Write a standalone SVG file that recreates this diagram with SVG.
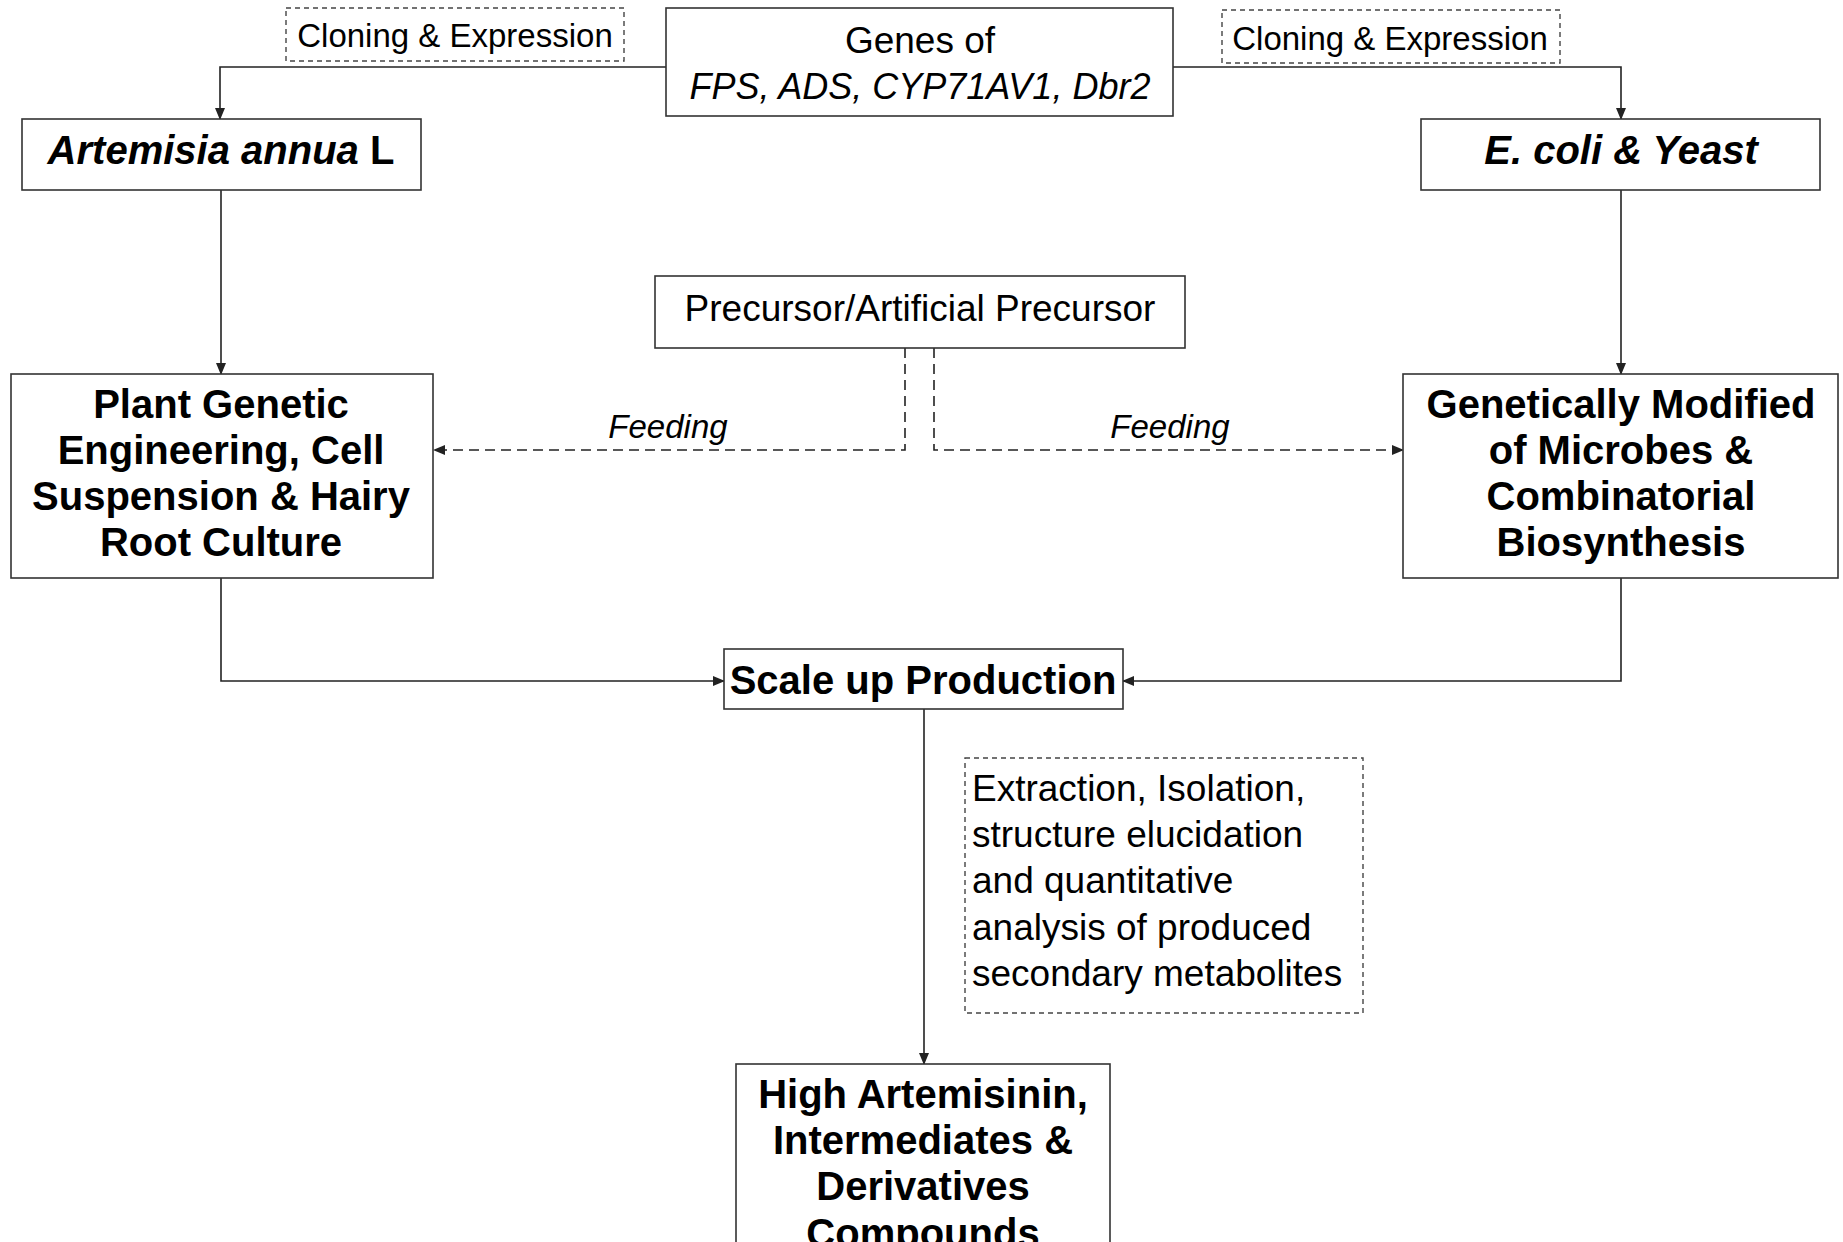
<svg xmlns="http://www.w3.org/2000/svg" width="1843" height="1242" viewBox="0 0 1843 1242">
<style>
.box{fill:#fff;stroke:#333;stroke-width:1.6}
.dbox{fill:#fff;stroke:#444;stroke-width:1.4;stroke-dasharray:5 4}
.ln{fill:none;stroke:#222;stroke-width:1.6}
.dln{fill:none;stroke:#222;stroke-width:1.6;stroke-dasharray:10 6}
text{font-family:"Liberation Sans",Arial,sans-serif;fill:#000}
.b{font-weight:bold;font-size:40px;text-anchor:middle}
.r{font-size:37px;text-anchor:middle}
.s{font-size:33px;text-anchor:middle}
.i{font-style:italic}
</style>
<defs>
<marker id="ah" markerWidth="12" markerHeight="10" refX="11" refY="5" orient="auto" markerUnits="userSpaceOnUse">
<path d="M0,0 L12,5 L0,10 Z" fill="#222"/>
</marker>
</defs>
<rect width="1843" height="1242" fill="#fff"/>
<g id="connectors">
<path class="ln" d="M666,67 H220 V119" marker-end="url(#ah)"/>
<path class="ln" d="M1173,67 H1621 V119" marker-end="url(#ah)"/>
<path class="ln" d="M221,190 V374" marker-end="url(#ah)"/>
<path class="ln" d="M1621,190 V374" marker-end="url(#ah)"/>
<path class="dln" d="M905,348 V450 H434" marker-end="url(#ah)"/>
<path class="dln" d="M934,348 V450 H1403" marker-end="url(#ah)"/>
<path class="ln" d="M221,578 V681 H724" marker-end="url(#ah)"/>
<path class="ln" d="M1621,578 V681 H1123" marker-end="url(#ah)"/>
<path class="ln" d="M924,709 V1064" marker-end="url(#ah)"/>
<text class="s i" x="668" y="438">Feeding</text>
<text class="s i" x="1170" y="438">Feeding</text>
</g>
<g id="genes">
<rect class="box" x="666" y="8" width="507" height="108"/>
<text class="r" x="920" y="53">Genes of</text>
<text class="r i" x="920" y="99" style="font-size:36px">FPS, ADS, CYP71AV1, Dbr2</text>
</g>
<g id="cloning-left">
<rect class="dbox" x="286" y="8" width="338" height="53"/>
<text class="s" x="455" y="47">Cloning &amp; Expression</text>
</g>
<g id="cloning-right">
<rect class="dbox" x="1222" y="10" width="338" height="53"/>
<text class="s" x="1390" y="50">Cloning &amp; Expression</text>
</g>
<g id="artemisia">
<rect class="box" x="22" y="119" width="399" height="71"/>
<text class="b" x="221" y="164"><tspan class="i">Artemisia annua</tspan> L</text>
</g>
<g id="ecoli">
<rect class="box" x="1421" y="119" width="399" height="71"/>
<text class="b i" x="1621" y="164">E. coli &amp; Yeast</text>
</g>
<g id="precursor">
<rect class="box" x="655" y="276" width="530" height="72"/>
<text class="r" x="920" y="321">Precursor/Artificial Precursor</text>
</g>
<g id="plant">
<rect class="box" x="11" y="374" width="422" height="204"/>
<text class="b" x="221" y="418">Plant Genetic</text>
<text class="b" x="221" y="464">Engineering, Cell</text>
<text class="b" x="221" y="510">Suspension &amp; Hairy</text>
<text class="b" x="221" y="556">Root Culture</text>
</g>
<g id="microbes">
<rect class="box" x="1403" y="374" width="435" height="204"/>
<text class="b" x="1621" y="418">Genetically Modified</text>
<text class="b" x="1621" y="464">of Microbes &amp;</text>
<text class="b" x="1621" y="510">Combinatorial</text>
<text class="b" x="1621" y="556">Biosynthesis</text>
</g>
<g id="scaleup">
<rect class="box" x="724" y="649" width="399" height="60"/>
<text class="b" x="923" y="694">Scale up Production</text>
</g>
<g id="extraction">
<rect class="dbox" x="965" y="758" width="398" height="255"/>
<text class="r" x="972" y="801" style="text-anchor:start">Extraction, Isolation,</text>
<text class="r" x="972" y="847" style="text-anchor:start">structure elucidation</text>
<text class="r" x="972" y="893" style="text-anchor:start">and quantitative</text>
<text class="r" x="972" y="940" style="text-anchor:start">analysis of produced</text>
<text class="r" x="972" y="986" style="text-anchor:start">secondary metabolites</text>
</g>
<g id="high">
<rect class="box" x="736" y="1064" width="374" height="200"/>
<text class="b" x="923" y="1108">High Artemisinin,</text>
<text class="b" x="923" y="1154">Intermediates &amp;</text>
<text class="b" x="923" y="1200">Derivatives</text>
<text class="b" x="923" y="1247">Compounds</text>
</g>
</svg>
